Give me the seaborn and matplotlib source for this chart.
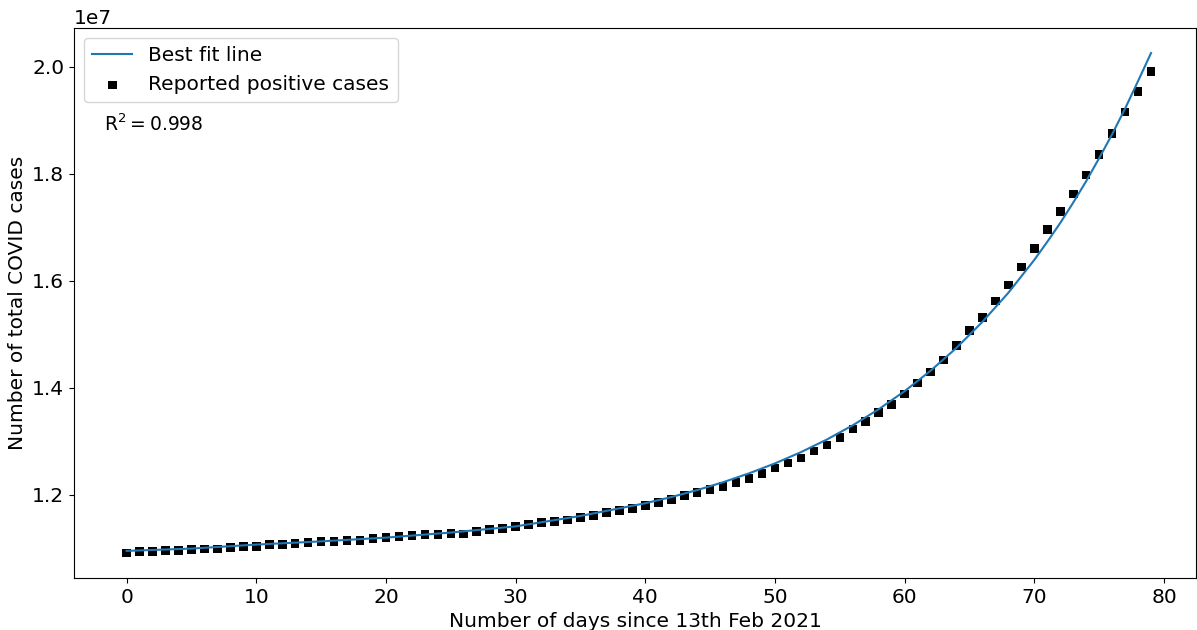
import numpy as np
import pandas as pd
import seaborn as sns
import matplotlib.pyplot as plt

# reported positive cases, days since 13th Feb 2021 (values in units of 1e7)
days = np.arange(0, 80)
cases = [1.0907, 1.0935, 1.0935, 1.0953, 1.0953, 1.0972, 1.0985, 1.0985, 1.1009, 1.1028,
         1.1028, 1.1065, 1.1065, 1.1084, 1.1103, 1.1121, 1.1127, 1.1146, 1.1146, 1.1183,
         1.1202, 1.1215, 1.1234, 1.1252, 1.1252, 1.1271, 1.1265, 1.1308, 1.1346, 1.1370,
         1.1402, 1.1439, 1.1482, 1.1501, 1.1527, 1.1576, 1.1607, 1.1664, 1.1701, 1.1738,
         1.1794, 1.1850, 1.1907, 1.1981, 1.2037, 1.2099, 1.2155, 1.2230, 1.2305, 1.2398,
         1.2499, 1.2593, 1.2686, 1.2817, 1.2929, 1.3065, 1.3224, 1.3370, 1.3538, 1.3688,
         1.3882, 1.4088, 1.4293, 1.4518, 1.4785, 1.5065, 1.5314, 1.5621, 1.5920, 1.6258,
         1.6598, 1.6957, 1.7295, 1.7621, 1.7976, 1.8355, 1.8753, 1.9153, 1.9533, 1.9907]

# best fit line
fit_days = [0, 5, 10, 15, 20, 25, 30, 35, 40, 42, 44, 46, 48, 50, 52, 54, 56, 58, 60,
            62, 64, 66, 68, 70, 71, 72, 73, 74, 75, 76, 77, 78, 79]
fit_vals = [1.0947, 1.0990, 1.1065, 1.1125, 1.1195, 1.1290, 1.1405, 1.1600, 1.1838, 1.1953,
            1.2084, 1.2231, 1.2397, 1.2583, 1.2793, 1.3029, 1.3296, 1.3596, 1.3934,
            1.4316, 1.4744, 1.5231, 1.5774, 1.6389, 1.6727, 1.7079, 1.7460, 1.7861, 1.8291,
            1.8738, 1.9218, 1.9733, 2.0256]

df = pd.DataFrame({'day': days, 'cases': np.array(cases) * 1e7})
fit = pd.DataFrame({'day': fit_days, 'val': np.array(fit_vals) * 1e7})

fs = 14.5
fig = plt.figure(figsize=(11.97, 6.3), dpi=100)
ax = fig.add_axes([0.0618, 0.0825, 0.9374, 0.873])

sns.lineplot(data=fit, x='day', y='val', ax=ax, color='#1f77b4', linewidth=1.5,
             label='Best fit line')
sns.scatterplot(data=df, x='day', y='cases', ax=ax, color='black', marker='s', s=38,
                edgecolor='none', label='Reported positive cases')

ax.set_xlim(-4.06, 82.47)
ax.set_xlabel('Number of days since 13th Feb 2021', fontsize=fs)
ax.set_ylabel('Number of total COVID cases', fontsize=fs)
ax.tick_params(labelsize=fs)
ax.yaxis.get_offset_text().set_fontsize(fs)
ax.legend(loc='upper left', fontsize=fs)
ax.text(0.027, 0.825, r'$\mathrm{R^2 = 0.998}$', transform=ax.transAxes, fontsize=13.5, va='center')

fig.savefig('out.png', dpi=100)
